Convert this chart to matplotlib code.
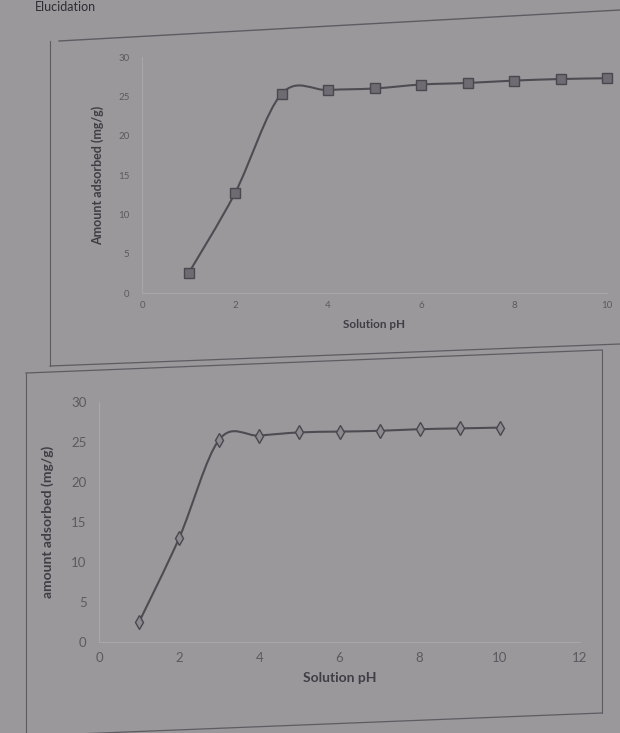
import matplotlib
matplotlib.use("Agg")
import matplotlib.pyplot as plt
from matplotlib.path import Path
from matplotlib.patches import PathPatch
from matplotlib.lines import Line2D

plt.rcParams['font.family'] = ['Lato', 'DejaVu Sans']

# solution pH vs amount adsorbed
ph_top = [1, 2, 3, 4, 5, 6, 7, 8, 9, 10]
ads_top = [2.5, 12.7, 25.3, 25.8, 26.0, 26.5, 26.7, 27.0, 27.2, 27.3]

ph_bot = [1, 2, 3, 4, 5, 6, 7, 8, 9, 10]
ads_bot = [2.5, 13.0, 25.3, 25.8, 26.2, 26.3, 26.4, 26.6, 26.7, 26.8]

xticks_top = [0, 2, 4, 6, 8, 10]
xticks_bot = [0, 2, 4, 6, 8, 10, 12]
yticks = [0, 5, 10, 15, 20, 25, 30]

W, H = 620, 733
page = '#9a989b'
ink = '#403e45'
tick_ink = '#5c5a60'


def smooth(xs, ys):
    # excel style smoothed line as cubic bezier segments
    pts = list(zip(xs, ys))
    n = len(pts)
    verts = [pts[0]]
    codes = [Path.MOVETO]
    for i in range(n - 1):
        p0 = pts[i - 1] if i > 0 else pts[i]
        p1 = pts[i]
        p2 = pts[i + 1]
        p3 = pts[i + 2] if i + 2 < n else pts[i + 1]
        c1 = (p1[0] + (p2[0] - p0[0]) / 6, p1[1] + (p2[1] - p0[1]) / 6)
        c2 = (p2[0] - (p3[0] - p1[0]) / 6, p2[1] - (p3[1] - p1[1]) / 6)
        verts += [c1, c2, p2]
        codes += [Path.CURVE4] * 3
    return Path(verts, codes)


def fig_line(fig, x0, y0, x1, y1, color='#5e5c62', lw=1.0):
    fig.add_artist(Line2D([x0 / W, x1 / W], [1 - y0 / H, 1 - y1 / H],
                          transform=fig.transFigure, color=color, lw=lw))


def style(ax, tick_size, pad_x, pad_y):
    ax.set_facecolor(page)
    for s in ['top', 'right']:
        ax.spines[s].set_visible(False)
    for s in ['left', 'bottom']:
        ax.spines[s].set_color('#a9a7aa')
        ax.spines[s].set_linewidth(0.8)
    ax.tick_params(length=0, labelsize=tick_size, colors=tick_ink)
    ax.tick_params(axis='x', pad=pad_x)
    ax.tick_params(axis='y', pad=pad_y)


fig = plt.figure(figsize=(W / 100, H / 100), dpi=100)
fig.patch.set_facecolor(page)

# heading at the top of the page (cut off in the photo)
fig.text(35 / W, 1 - 1 / H, 'Elucidation', fontsize=9, color='#2e2c32',
         va='top', ha='left')

# page frames
fig_line(fig, 59, 41, 620, 10)
fig_line(fig, 50, 41, 50, 366, lw=0.8)
fig_line(fig, 50, 366, 620, 344, lw=0.9)
fig_line(fig, 26, 373, 602, 350, lw=0.9)
fig_line(fig, 26, 373, 26, 733, lw=0.8)
fig_line(fig, 602, 350, 602, 713, lw=0.8)
fig_line(fig, 26, 736, 602, 713, lw=0.9)

# top chart
ax1 = fig.add_axes([142 / W, 1 - 293 / H, 465 / W, 236 / H])
style(ax1, 7, 6, 9)
ax1.add_patch(PathPatch(smooth(ph_top, ads_top), fill=False,
                        edgecolor='#4e4c52', lw=1.5))
ax1.plot(ph_top, ads_top, ls='none', marker='s', markersize=7,
         markerfacecolor='#6e6c72', markeredgecolor='#4a484e', clip_on=False)
ax1.set_xlim(0, 10)
ax1.set_ylim(0, 30)
ax1.set_xticks(xticks_top)
ax1.set_yticks(yticks)
ax1.set_xlabel('Solution pH', fontsize=8.5, color=ink, labelpad=6,
               fontweight='bold')
ax1.set_ylabel('Amount adsorbed (mg/g)', fontsize=9, color=ink, labelpad=10,
               fontweight='bold')

# bottom chart
ax2 = fig.add_axes([99 / W, 1 - 642 / H, 481 / W, 240 / H])
style(ax2, 9.5, 7, 9)
ax2.add_patch(PathPatch(smooth(ph_bot, ads_bot), fill=False,
                        edgecolor='#4e4c52', lw=1.5))
ax2.plot(ph_bot, ads_bot, ls='none', marker='d', markersize=7.5,
         markerfacecolor='#8c8a8e', markeredgecolor='#4a484e', clip_on=False)
ax2.set_xlim(0, 12)
ax2.set_ylim(0, 30)
ax2.set_xticks(xticks_bot)
ax2.set_yticks(yticks)
ax2.set_xlabel('Solution pH', fontsize=10, color=ink, labelpad=6,
               fontweight='bold')
ax2.set_ylabel('amount adsorbed (mg/g)', fontsize=10, color=ink, labelpad=12,
               fontweight='bold')

fig.savefig('out.png', dpi=100, facecolor=fig.get_facecolor())
